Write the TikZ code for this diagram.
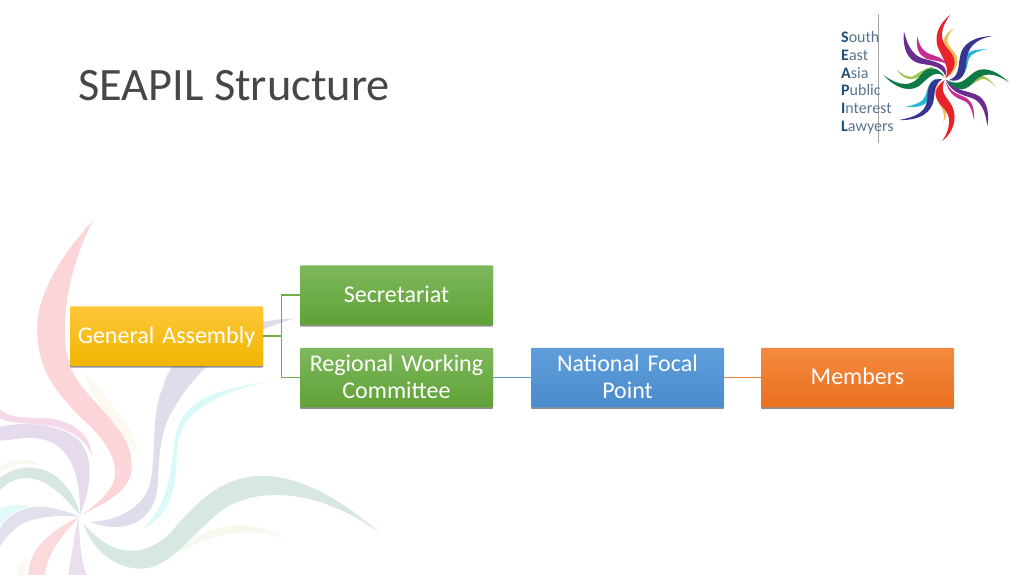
\documentclass[tikz,border=0pt]{standalone}
\usepackage{fontspec}
\setmainfont{Carlito}
\usetikzlibrary{shadows}
\definecolor{gOrT}{HTML}{FFC63A}\definecolor{gOrB}{HTML}{EFB700}
\definecolor{grT}{HTML}{7EB85C}\definecolor{grB}{HTML}{5FA136}
\definecolor{blT}{HTML}{5F9EDB}\definecolor{blB}{HTML}{4A8BCB}
\definecolor{orT}{HTML}{F58A3E}\definecolor{orB}{HTML}{E9701F}
\definecolor{lineG}{HTML}{70AD47}\definecolor{lineB}{HTML}{5B9BD5}\definecolor{lineO}{HTML}{ED7D31}
\definecolor{logoB}{HTML}{1F4E79}\definecolor{logoT}{HTML}{5B7490}
\definecolor{cRed}{HTML}{E8242B}\definecolor{cYel}{HTML}{EDBE5C}\definecolor{cInd}{HTML}{36358F}
\definecolor{cCya}{HTML}{29B6D8}\definecolor{cGrn}{HTML}{0E7A45}\definecolor{cLim}{HTML}{9CC653}
\definecolor{cPur}{HTML}{6A2C91}\definecolor{cMag}{HTML}{C72C92}
\definecolor{bgCya}{HTML}{3FE0E0}
\tikzset{
  orgbox/.style={minimum width=193pt,minimum height=59.5pt,inner sep=0pt,text width=190pt,align=center,
    rounded corners=1pt,text=white,font=\fontsize{24}{27}\selectfont,
    drop shadow={shadow xshift=0pt,shadow yshift=-1.8pt,opacity=.6,fill=black!70}},
  yellowbox/.style={orgbox,top color=gOrT,bottom color=gOrB},
  greenbox/.style={orgbox,top color=grT,bottom color=grB},
  bluebox/.style={orgbox,top color=blT,bottom color=blB},
  orangebox/.style={orgbox,top color=orT,bottom color=orB},
  link/.style={line width=1.2pt},
  logotext/.style={anchor=base west,inner sep=0pt,text=logoT,font=\fontsize{16}{17}\selectfont},
}
\newcommand{\logoword}[2]{\textcolor{logoB}{\bfseries #1}#2}
\newcommand{\inkshift}[2]{\raisebox{#1}[\height][\depth]{#2}}
\newcommand{\twolines}[2]{\begin{tabular}{@{}c@{}}#1\\#2\end{tabular}}
\begin{document}
\begin{tikzpicture}[x=1pt,y=-1pt]
\useasboundingbox (0,0) rectangle (1024,576);
\fill[white] (0,0) rectangle (1024,576);
% background swirl, traced in 3x crop coordinates
\begin{scope}[shift={(0,200)},x=0.3333pt,y=-0.3333pt]
\clip (0,0) rectangle (1200,1128);
\fill[cRed!19] (245,945) .. controls (330,900) and (400,870) .. (395,790) .. controls (390,680) and (280,620) .. (225,530) .. controls (170,440) and (190,230) .. (280,60) .. controls (170,180) and (105,300) .. (112,400) .. controls (115,520) and (180,590) .. (250,660) .. controls (330,730) and (350,790) .. (345,830) .. controls (335,880) and (280,920) .. cycle;
\fill[cYel!9] (250,510) .. controls (320,600) and (420,690) .. (410,770) .. controls (400,720) and (290,640) .. cycle;
\fill[cInd!17] (270,965) .. controls (350,1000) and (450,980) .. (470,880) .. controls (480,800) and (470,700) .. (525,620) .. controls (570,540) and (680,410) .. (885,355) .. controls (740,360) and (520,420) .. (490,560) .. controls (450,640) and (470,780) .. (450,850) .. controls (430,930) and (340,965) .. cycle;
\fill[bgCya!18] (430,985) .. controls (510,950) and (530,860) .. (530,770) .. controls (530,680) and (570,600) .. (800,545) .. controls (640,570) and (560,600) .. (530,690) .. controls (510,780) and (520,900) .. cycle;
\fill[cGrn!17] (250,970) .. controls (280,1060) and (360,1115) .. (440,1105) .. controls (520,1090) and (580,1000) .. (660,935) .. controls (760,860) and (950,860) .. (1140,1000) .. controls (1040,910) and (900,820) .. (770,828) .. controls (650,835) and (570,930) .. (510,1000) .. controls (450,1060) and (350,1090) .. cycle;
\fill[cLim!10] (530,1060) .. controls (600,980) and (740,940) .. (860,1020) .. controls (760,975) and (640,1000) .. cycle;
\fill[cMag!18] (0,630) .. controls (60,670) and (120,640) .. (190,665) .. controls (240,680) and (275,720) .. (275,770) .. controls (260,710) and (190,680) .. (130,675) .. controls (80,670) and (30,670) .. (0,655) -- cycle;
\fill[cPur!17] (0,680) .. controls (70,665) and (170,670) .. (230,715) .. controls (290,770) and (270,870) .. (240,945) .. controls (240,860) and (230,770) .. (160,730) .. controls (100,700) and (50,720) .. (0,722) -- cycle;
\fill[cLim!10] (0,800) .. controls (30,775) and (80,770) .. (120,795) .. controls (80,785) and (40,790) .. (0,815) -- cycle;
\fill[cGrn!17] (0,835) .. controls (50,790) and (140,790) .. (190,850) .. controls (220,880) and (235,920) .. (240,945) .. controls (200,900) and (150,840) .. (90,835) .. controls (50,830) and (20,850) .. (0,870) -- cycle;
\fill[bgCya!16] (0,925) .. controls (40,910) and (70,915) .. (90,920) .. controls (50,925) and (20,950) .. (0,975) -- cycle;
\fill[cInd!15] (0,985) .. controls (30,930) and (100,910) .. (160,925) .. controls (190,930) and (225,945) .. (240,950) .. controls (180,945) and (110,950) .. (70,970) .. controls (40,985) and (15,1015) .. (0,1040) -- cycle;
\fill[cRed!17] (85,1125) .. controls (85,1050) and (150,990) .. (240,950) .. controls (190,1000) and (140,1060) .. (135,1125) -- cycle;
\fill[cPur!15] (205,1125) .. controls (215,1060) and (225,1000) .. (235,955) .. controls (240,1010) and (240,1080) .. (260,1125) -- cycle;
\fill[cYel!10] (50,1125) .. controls (55,1100) and (70,1080) .. (85,1070) .. controls (80,1090) and (75,1110) .. (75,1125) -- cycle;
\end{scope}
% logo swirl, traced in 3x crop coordinates
\begin{scope}[shift={(824,0)},x=0.3333pt,y=-0.3333pt]
\fill[cYel] (375,230) .. controls (410,195) and (405,170) .. (385,150) .. controls (365,125) and (365,110) .. (390,85) .. controls (355,105) and (350,130) .. (370,160) .. controls (390,190) and (385,205) .. cycle;
\fill[cRed] (365,235) .. controls (405,200) and (395,170) .. (370,145) .. controls (345,115) and (350,85) .. (378,45) .. controls (340,75) and (328,115) .. (345,150) .. controls (365,190) and (375,205) .. cycle;
\fill[cCya] (400,238) .. controls (430,225) and (430,190) .. (435,175) .. controls (442,160) and (465,152) .. (490,148) .. controls (455,148) and (430,150) .. (422,175) .. controls (415,200) and (420,220) .. cycle;
\fill[cInd] (375,240) .. controls (410,250) and (425,225) .. (427,185) .. controls (430,145) and (450,118) .. (505,108) .. controls (450,110) and (415,130) .. (408,170) .. controls (402,205) and (405,230) .. cycle;
\fill[cLim] (400,268) .. controls (435,265) and (460,240) .. (475,237) .. controls (490,235) and (505,250) .. (515,262) .. controls (500,240) and (485,225) .. (465,228) .. controls (445,232) and (430,255) .. cycle;
\fill[cGrn] (368,240) .. controls (385,270) and (420,280) .. (445,250) .. controls (470,222) and (500,210) .. (555,247) .. controls (510,205) and (475,200) .. (450,217) .. controls (425,235) and (410,262) .. cycle;
\fill[cMag] (365,243) .. controls (375,290) and (405,295) .. (425,305) .. controls (440,315) and (445,335) .. (450,360) .. controls (452,325) and (445,305) .. (425,293) .. controls (400,280) and (380,280) .. cycle;
\fill[cPur] (365,238) .. controls (385,285) and (425,285) .. (450,297) .. controls (475,310) and (485,340) .. (490,378) .. controls (498,330) and (485,295) .. (455,283) .. controls (420,270) and (385,270) .. cycle;
\fill[cYel] (345,245) .. controls (320,280) and (340,300) .. (350,320) .. controls (360,335) and (362,350) .. (358,365) .. controls (375,340) and (365,315) .. (350,295) .. controls (335,275) and (335,265) .. cycle;
\fill[cRed] (362,240) .. controls (325,265) and (330,295) .. (355,320) .. controls (380,345) and (385,375) .. (355,423) .. controls (390,395) and (400,355) .. (385,320) .. controls (370,290) and (345,280) .. cycle;
\fill[cCya] (340,235) .. controls (315,240) and (310,270) .. (305,285) .. controls (300,305) and (275,315) .. (245,320) .. controls (285,325) and (310,315) .. (318,290) .. controls (325,265) and (320,250) .. cycle;
\fill[cInd] (355,238) .. controls (320,232) and (310,260) .. (310,295) .. controls (308,330) and (285,350) .. (225,360) .. controls (285,362) and (325,340) .. (330,295) .. controls (333,265) and (335,250) .. cycle;
\fill[cLim] (335,200) .. controls (305,200) and (285,220) .. (265,230) .. controls (250,232) and (232,222) .. (218,208) .. controls (232,232) and (255,243) .. (275,235) .. controls (300,225) and (310,205) .. cycle;
\fill[cGrn] (362,232) .. controls (345,200) and (310,195) .. (290,225) .. controls (265,260) and (230,262) .. (178,225) .. controls (220,270) and (265,280) .. (295,250) .. controls (320,225) and (340,210) .. cycle;
\fill[cMag] (372,195) .. controls (350,165) and (325,170) .. (305,155) .. controls (290,145) and (285,130) .. (280,110) .. controls (275,145) and (285,165) .. (305,175) .. controls (330,185) and (350,180) .. cycle;
\fill[cPur] (365,228) .. controls (375,190) and (330,185) .. (295,175) .. controls (265,165) and (250,135) .. (240,95) .. controls (235,145) and (250,180) .. (285,190) .. controls (320,197) and (350,195) .. cycle;
\end{scope}
% logo text
\coordinate (ruleTop) at (878.5,14);
\coordinate (ruleEnd) at (878.5,143);
\draw[gray!70,line width=.6pt] (ruleTop) -- (ruleEnd);
\node[logotext] (l1) at (841,42) {\logoword{S}{outh}};
\node[logotext] (l2) at (841,60) {\logoword{E}{ast}};
\node[logotext] (l3) at (841,78) {\logoword{A}{sia}};
\node[logotext] (l4) at (841,95.5) {\logoword{P}{ublic}};
\node[logotext] (l5) at (841,113) {\logoword{I}{nterest}};
\node[logotext] (l6) at (841,131) {\logoword{L}{awyers}};
% title
\node[anchor=base west,inner sep=0pt,text=black!72,font=\fontsize{46.4}{52}\selectfont] (title) at (78,100) {SEAPIL Structure};
% org chart
\node[yellowbox] (ga) at (166.5,336) {\inkshift{-1pt}{General Assembly}};
\node[greenbox] (sec) at (396.5,295) {\inkshift{1pt}{Secretariat}};
\node[greenbox] (rwc) at (396.5,377.5) {\inkshift{-2pt}{\twolines{Regional Working}{Committee}}};
\node[bluebox] (nfp) at (627.5,377.5) {\inkshift{-2pt}{\twolines{National Focal}{Point}}};
\node[orangebox] (mem) at (857.5,377.5) {\inkshift{1pt}{Members}};
\coordinate (elbow) at ([xshift=18.5pt]ga.east);
\draw[link,lineG] (ga.east) -- (elbow) (sec.west) -| (elbow) |- (rwc.west);
\draw[link,lineB] (rwc.east) -- (nfp.west);
\draw[link,lineO] (nfp.east) -- (mem.west);
\end{tikzpicture}
\end{document}
